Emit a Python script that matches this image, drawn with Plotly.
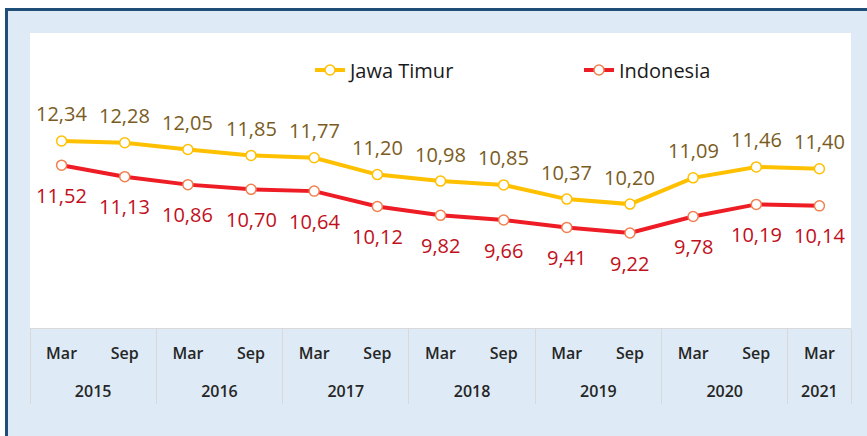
import plotly.graph_objects as go

years = ["2015", "2015", "2016", "2016", "2017", "2017", "2018", "2018",
         "2019", "2019", "2020", "2020", "2021"]
months = ["Mar", "Sep", "Mar", "Sep", "Mar", "Sep", "Mar", "Sep",
          "Mar", "Sep", "Mar", "Sep", "Mar"]
jawa_timur = [12.34, 12.28, 12.05, 11.85, 11.77, 11.20, 10.98, 10.85,
              10.37, 10.20, 11.09, 11.46, 11.40]
indonesia = [11.52, 11.13, 10.86, 10.70, 10.64, 10.12, 9.82, 9.66,
             9.41, 9.22, 9.78, 10.19, 10.14]

periods = [f"{m} {y}" for m, y in zip(months, years)]
year_labels = list(dict.fromkeys(years))
year_centers = [sum(i for i, y in enumerate(years) if y == yl) / years.count(yl) for yl in year_labels]
year_bounds = [years.index(yl) - 0.5 for yl in year_labels] + [len(years) - 0.5]

W, H = 867, 436
ML, MR, MT, MB = 30, 16, 33, 108
PW, PH = W - ML - MR, H - MT - MB


def px_x(p):
    return (p - ML) / PW


def px_y(p):
    return (H - MB - p) / PH


def fmt(v):
    return f"{v:.2f}".replace(".", ",")


BG = "#deebf6"
NAVY = "#1f4e79"
YEL = "#ffc000"
RED = "#ee1c25"
GRID = "#d9d9d9"
TICKFONT = dict(family="Open Sans", size=16, color="#262626", weight=600)

fig = go.Figure()
fig.add_trace(go.Scatter(
    x=periods, y=jawa_timur, name="Jawa Timur", mode="lines+markers",
    line=dict(color=YEL, width=4),
    marker=dict(symbol="circle", size=10, color="white", line=dict(color=YEL, width=1.5)),
))
fig.add_trace(go.Scatter(
    x=periods, y=indonesia, name="Indonesia", mode="lines+markers",
    line=dict(color=RED, width=4),
    marker=dict(symbol="circle", size=10, color="white", line=dict(color="#f08050", width=1.5)),
))

annotations = []
for p, v in zip(periods, jawa_timur):
    annotations.append(dict(x=p, y=v, xref="x", yref="y", text=fmt(v), showarrow=False,
                            yshift=27, font=dict(family="Open Sans", size=20, color="#7a5c22")))
for p, v in zip(periods, indonesia):
    annotations.append(dict(x=p, y=v, xref="x", yref="y", text=fmt(v), showarrow=False,
                            yshift=-30, font=dict(family="Open Sans", size=20, color="#c0101c")))

shapes = [
    dict(type="rect", xref="paper", yref="paper", x0=px_x(0), x1=px_x(W), y0=px_y(8), y1=px_y(0),
         fillcolor="white", line_width=0),
    dict(type="rect", xref="paper", yref="paper", x0=px_x(0), x1=px_x(5), y0=px_y(H), y1=px_y(0),
         fillcolor="white", line_width=0),
    dict(type="rect", xref="paper", yref="paper", x0=px_x(5), x1=px_x(W), y0=px_y(11), y1=px_y(8),
         fillcolor=NAVY, line_width=0),
    dict(type="rect", xref="paper", yref="paper", x0=px_x(5), x1=px_x(8), y0=px_y(H), y1=px_y(8),
         fillcolor=NAVY, line_width=0),
]

fig.update_layout(
    width=W, height=H,
    margin=dict(l=ML, r=MR, t=MT, b=MB, pad=0),
    paper_bgcolor=BG, plot_bgcolor="white",
    showlegend=True,
    legend=dict(orientation="h", x=px_x(310), y=px_y(70), xanchor="left", yanchor="middle",
                font=dict(family="Open Sans", size=20, color="#1a1a1a"),
                bgcolor="rgba(0,0,0,0)", entrywidth=224, itemwidth=30),
    annotations=annotations,
    shapes=shapes,
    font=dict(family="Open Sans"),
    xaxis=dict(
        type="category", range=[-0.5, len(periods) - 0.5],
        tickmode="array", tickvals=periods, ticktext=months,
        ticks="outside", ticklen=11, tickcolor="rgba(0,0,0,0)",
        showline=True, linecolor=GRID, linewidth=1,
        showgrid=False, zeroline=False, tickfont=TICKFONT, automargin=False,
    ),
    xaxis2=dict(
        overlaying="x", anchor="y", side="bottom", type="linear",
        range=[-0.5, len(periods) - 0.5],
        tickmode="array", tickvals=year_centers, ticktext=year_labels,
        ticks="outside", ticklen=49, tickcolor="rgba(0,0,0,0)",
        showline=False, showgrid=False, zeroline=False, tickfont=TICKFONT, automargin=False,
    ),
    xaxis3=dict(
        overlaying="x", anchor="y", side="bottom", type="linear",
        range=[-0.5, len(periods) - 0.5],
        tickmode="array", tickvals=year_bounds, showticklabels=False,
        ticks="outside", ticklen=75, tickcolor=GRID, tickwidth=1,
        showline=False, showgrid=False, zeroline=False, automargin=False,
    ),
    yaxis=dict(range=[6, 16], visible=False, showgrid=False, zeroline=False),
)
# invisible traces that activate the overlaid axes
fig.add_trace(go.Scatter(x=year_centers, y=[None] * len(year_centers), xaxis="x2", yaxis="y",
                         showlegend=False, hoverinfo="skip"))
fig.add_trace(go.Scatter(x=year_bounds, y=[None] * len(year_bounds), xaxis="x3", yaxis="y",
                         showlegend=False, hoverinfo="skip"))

fig.write_html("out.html", config={"displayModeBar": False},
               post_script="document.body.style.margin='0';")
